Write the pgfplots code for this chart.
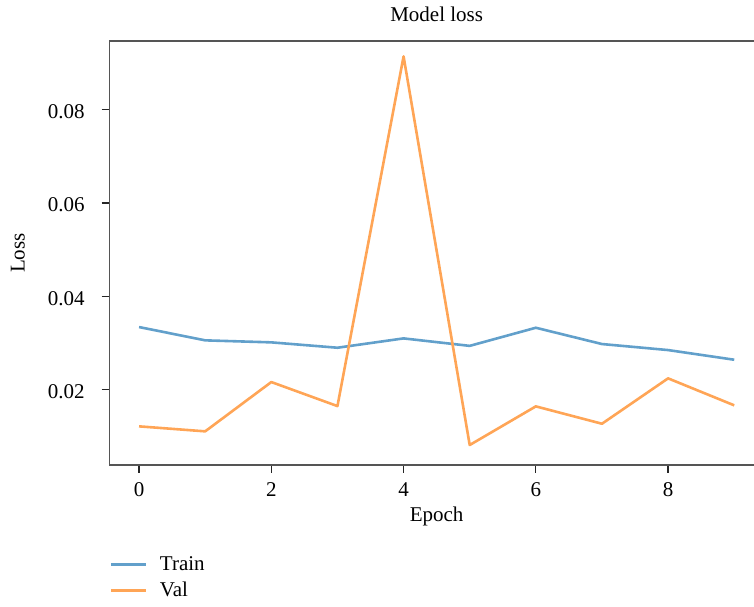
\documentclass[border=0pt]{standalone}
\usepackage{pgfplots}
\pgfplotsset{compat=1.18}
\usepackage{fontspec}
\setmainfont{Liberation Serif}
\definecolor{trainc}{RGB}{98,160,203}
\definecolor{valc}{RGB}{255,165,86}
\definecolor{spine}{RGB}{85,85,85}
\begin{document}
\fontsize{10.5}{12.6}\selectfont
\begin{tikzpicture}
\begin{axis}[
  at={(0pt,0pt)}, anchor=south west,
  scale only axis, width=327.35pt, height=212pt,
  xmin=-0.45, xmax=9.45, ymin=0.00388, ymax=0.0947,
  xtick={0,2,4,6,8}, ytick={0.02,0.04,0.06,0.08},
  yticklabels={0.02,0.04,0.06,0.08},
  scaled y ticks=false,
  /pgf/number format/assume math mode=true,
  tick align=outside, major tick length=3.8pt,
  tick style={color=black!85, line width=0.6pt},
  axis line style={spine, line width=0.75pt},
  xtick pos=bottom, ytick pos=left,
  xticklabel style={anchor=base, inner sep=0pt, yshift=-12pt},
  yticklabel style={anchor=east, inner sep=0pt, xshift=-8.3pt, yshift=-1pt},
  title={Model loss},
  every axis title shift=0pt,
  title style={at={(axis description cs:0.5,1)}, anchor=base, yshift=10pt, inner sep=0pt},
  xlabel={Epoch},
  xlabel style={at={(axis description cs:0.5,0)}, anchor=base, yshift=-28.35pt, inner sep=0pt},
  ylabel={Loss},
  ylabel style={at={(axis description cs:-0.1295,0.5)}, anchor=base, inner sep=0pt},
  legend style={draw=none, fill=none, at={(axis description cs:0,-0.2146)}, anchor=north west,
    inner sep=0pt, row sep=6pt, column sep=6.35pt,
    nodes={inner sep=0pt, text height=7pt, text depth=0pt}},
  legend cell align=left,
  legend image code/.code={\draw[#1, line width=1.3pt] (0pt,-0.5pt) -- (17.5pt,-0.5pt);},
  every axis plot/.append style={line width=1.3pt, line join=round},
]
\addplot[trainc] coordinates {
  (0,0.03343) (1,0.03058) (2,0.03015) (3,0.0290) (4,0.0310)
  (5,0.0294) (6,0.03328) (7,0.02979) (8,0.0285) (9,0.02643)
};
\addlegendentry{Train}
\addplot[valc] coordinates {
  (0,0.01216) (1,0.01109) (2,0.02165) (3,0.0165) (4,0.0914)
  (5,0.00816) (6,0.01644) (7,0.01272) (8,0.02244) (9,0.01666)
};
\addlegendentry{Val}
\end{axis}
\pgfresetboundingbox
\path[use as bounding box] (-54.65pt,-70.5pt) rectangle (322.35pt,232.5pt);
\end{tikzpicture}
\end{document}
